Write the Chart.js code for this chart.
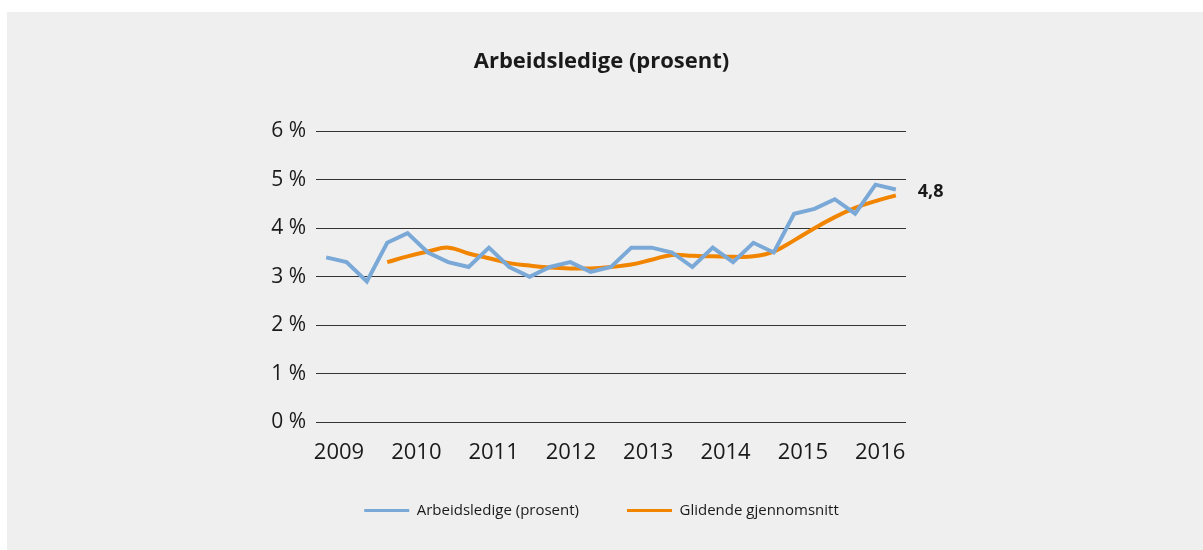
<!DOCTYPE html>
<html lang="no">
<head>
<meta charset="utf-8">
<title>Arbeidsledige (prosent)</title>
<script src="https://cdn.jsdelivr.net/npm/chart.js@4/dist/chart.umd.min.js"></script>
<style>
    html, body { margin: 0; padding: 0; background: #ffffff; }
    #wrap { position: absolute; left: 0; top: 0; width: 1203px; height: 550px; }
</style>
</head>
<body>
<div id="wrap"><canvas id="ledighet"></canvas></div>
<script>
// Kvartalstall 2009K1 - 2016K1
const ledige = [3.4, 3.3, 2.9, 3.7, 3.9, 3.5, 3.3, 3.2, 3.6, 3.2, 3.0, 3.2, 3.3, 3.1, 3.2,
    3.6, 3.6, 3.5, 3.2, 3.6, 3.3, 3.7, 3.5, 4.3, 4.4, 4.6, 4.3, 4.9, 4.8];
const glidende = [null, null, null, 3.3, 3.42, 3.52, 3.6, 3.48, 3.38, 3.28, 3.23, 3.19, 3.17, 3.17, 3.2,
    3.25, 3.35, 3.45, 3.43, 3.42, 3.41, 3.42, 3.52, 3.75, 4.0, 4.23, 4.42, 4.56, 4.68];
const aar = ["2009", "2010", "2011", "2012", "2013", "2014", "2015", "2016"];
const yTicks = [0, 1, 2, 3, 4, 5, 6];

const FONT = "'Open Sans', 'Noto Sans', sans-serif";
const BLAA = "#7ba9d7";
const ORANSJE = "#f28500";

const toPoints = arr => arr.map((v, i) => ({x: i, y: v}));
const fmt = v => String(v).replace(".", ",");

// grå bakgrunnsflate
const panel = {
    id: "panel",
    beforeDraw(chart) {
        const ctx = chart.ctx;
        ctx.save();
        ctx.fillStyle = "#efefef";
        ctx.fillRect(7, 12, chart.width - 7, chart.height - 12);
        ctx.restore();
    }
};

// verdien for siste punkt skrives til høyre for linja
const sisteVerdi = {
    id: "sisteVerdi",
    afterDatasetsDraw(chart) {
        const meta = chart.getDatasetMeta(0);
        const last = meta.data[meta.data.length - 1];
        const ctx = chart.ctx;
        ctx.save();
        ctx.font = "bold 18px " + FONT;
        ctx.fillStyle = "#1a1a1a";
        ctx.textAlign = "left";
        ctx.textBaseline = "middle";
        ctx.fillText(fmt(ledige[ledige.length - 1]), last.x + 22, last.y + 2);
        ctx.restore();
    }
};

new Chart(document.getElementById("ledighet"), {
    type: "line",
    data: {
        datasets: [
            {
                label: "Arbeidsledige (prosent)",
                data: toPoints(ledige),
                borderColor: BLAA,
                backgroundColor: BLAA,
                borderWidth: 4,
                pointRadius: 0,
                tension: 0
            },
            {
                label: "Glidende gjennomsnitt",
                data: toPoints(glidende),
                borderColor: ORANSJE,
                backgroundColor: ORANSJE,
                borderWidth: 4,
                pointRadius: 0,
                tension: 0.4
            }
        ]
    },
    options: {
        responsive: true,
        maintainAspectRatio: false,
        animation: false,
        layout: { padding: { bottom: 22 } },
        plugins: {
            title: {
                display: true,
                text: "Arbeidsledige (prosent)",
                color: "#1a1a1a",
                font: { family: FONT, size: 22, weight: "bold", lineHeight: 1.2 },
                padding: { top: 49, bottom: 56 }
            },
            legend: {
                position: "bottom",
                labels: {
                    color: "#1a1a1a",
                    font: { family: FONT, size: 15 },
                    usePointStyle: true,
                    pointStyleWidth: 45,
                    padding: 48,
                    generateLabels(chart) {
                        return chart.data.datasets.map((ds, i) => ({
                            text: ds.label,
                            datasetIndex: i,
                            pointStyle: "line",
                            strokeStyle: ds.borderColor,
                            fillStyle: ds.borderColor,
                            lineWidth: 3,
                            fontColor: "#1a1a1a"
                        }));
                    }
                }
            },
            tooltip: { enabled: false }
        },
        scales: {
            x: {
                type: "linear",
                min: -0.5,
                max: 28.5,
                grid: { display: false, drawTicks: false },
                border: { display: false },
                afterBuildTicks: scale => {
                    scale.ticks = aar.map((a, i) => ({ value: 0.63 + i * 3.8 }));
                },
                afterFit: scale => { scale.height = 33; },
                ticks: {
                    // mirror slipper årstallene fri fra aksens klippeboks,
                    // negativ padding legger dem under aksen igjen
                    mirror: true,
                    padding: -44,
                    color: "#1a1a1a",
                    font: { family: FONT, size: 22 },
                    maxRotation: 0,
                    autoSkip: false,
                    callback: (v, i) => aar[i]
                }
            },
            y: {
                min: 0,
                max: 6,
                afterBuildTicks: scale => {
                    scale.ticks = yTicks.map(v => ({ value: v }));
                },
                afterFit: scale => { scale.width = 316; },
                grid: { color: "#333333", lineWidth: 1, drawTicks: false },
                border: { display: false },
                ticks: {
                    padding: 10,
                    color: "#1a1a1a",
                    font: { family: FONT, size: 21 },
                    callback: v => v + " %"
                }
            },
            right: {
                position: "right",
                axis: "y",
                grid: { display: false, drawTicks: false },
                border: { display: false },
                ticks: { display: false },
                afterFit: scale => { scale.width = 297; }
            }
        }
    },
    plugins: [panel, sisteVerdi]
});
</script>
</body>
</html>
